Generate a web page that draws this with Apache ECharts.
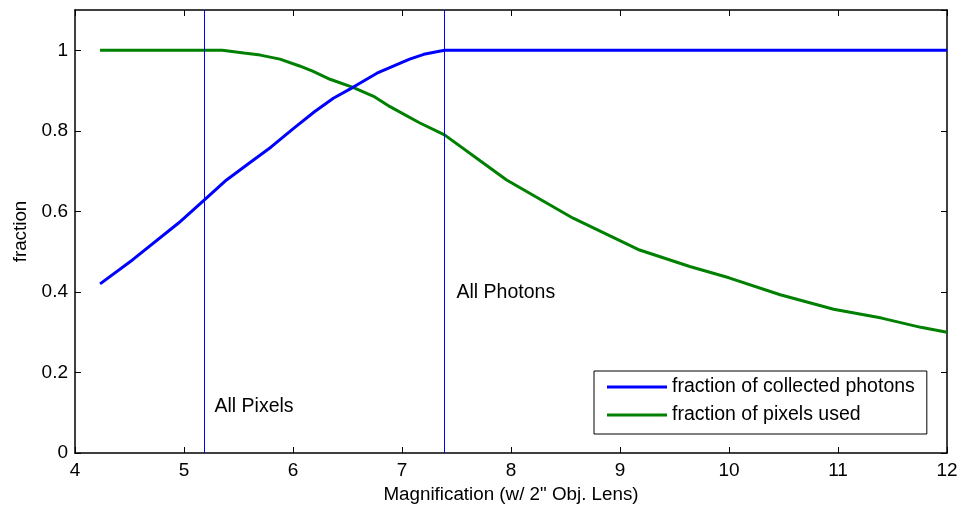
<!DOCTYPE html>
<html>
<head>
<meta charset="utf-8">
<script src="https://cdn.jsdelivr.net/npm/echarts@6/dist/echarts.min.js"></script>
<style>html,body{margin:0;padding:0;background:#fff}#c{width:961px;height:508px}</style>
</head>
<body>
<div id="c"></div>
<script>
const photonX = [4.23, 4.53, 4.95, 5.19, 5.39, 5.6, 5.8, 6.0, 6.2, 6.37, 6.55, 6.77, 7.07, 7.2, 7.39, 12];
const photonY = [0.42, 0.48, 0.571, 0.629, 0.678, 0.72, 0.76, 0.805, 0.848, 0.881, 0.908, 0.943, 0.978, 0.99, 1.0, 1.0];
const pixelX = [4.23, 5.35, 5.55, 5.70, 5.88, 6.06, 6.18, 6.34, 6.55, 6.75, 6.89, 7.16, 7.39, 7.72, 7.96, 8.57, 9.18, 9.64, 10.0, 10.47, 10.96, 11.4, 11.76, 12.0];
const pixelY = [1.0, 1.0, 0.993, 0.988, 0.978, 0.961, 0.948, 0.928, 0.908, 0.884, 0.86, 0.82, 0.79, 0.725, 0.678, 0.583, 0.504, 0.463, 0.435, 0.393, 0.357, 0.335, 0.312, 0.300];
const seriesNames = ['fraction of collected photons', 'fraction of pixels used'];
const markX = [5.19, 7.386];
const markLabels = [['All Pixels', 5.28, 0.115], ['All Photons', 7.5, 0.398]];
const xTicks = {min: 4, max: 12, interval: 1};
const yTicks = {min: 0, max: 1.1, interval: 0.2};

const font = 'Liberation Sans, Arial, Helvetica, sans-serif';
const zip = (xs, ys) => xs.map((x, i) => [x, ys[i]]);
const chart = echarts.init(document.getElementById('c'));
const axisLine = {show: true, onZero: false, lineStyle: {color: '#000', width: 1.5}};
const axisTick = {show: true, inside: true, length: 6, lineStyle: {color: '#000', width: 1}};
const vLine = {color: '#0000ff', width: 1, type: 'solid', opacity: 1};
chart.setOption({
  animation: false,
  grid: {left: 75, right: 14, top: 10, bottom: 55, containLabel: false, outerBoundsMode: 'none'},
  legend: {
    left: 594, top: 371, orient: 'vertical',
    backgroundColor: '#fff', borderColor: '#000', borderWidth: 1,
    padding: [6, 12, 9, 13], itemGap: 8, itemWidth: 60, itemHeight: 3,
    icon: 'rect',
    textStyle: {fontFamily: font, fontSize: 19.5, color: '#000', lineHeight: 20},
    data: seriesNames
  },
  xAxis: [{
    type: 'value', min: xTicks.min, max: xTicks.max, interval: xTicks.interval,
    name: 'Magnification (w/ 2" Obj. Lens)', nameLocation: 'middle', nameGap: 30,
    nameTextStyle: {fontFamily: font, fontSize: 18.8, color: '#000'},
    axisLine, axisTick, splitLine: {show: false},
    axisLabel: {fontFamily: font, fontSize: 19, color: '#000', margin: 8}
  }, {
    type: 'value', position: 'top', min: xTicks.min, max: xTicks.max, interval: xTicks.interval,
    axisLine, axisTick, splitLine: {show: false}, axisLabel: {show: false}
  }],
  yAxis: [{
    type: 'value', min: yTicks.min, max: yTicks.max, interval: yTicks.interval,
    name: 'fraction', nameLocation: 'middle', nameGap: 45, nameRotate: 90,
    nameTextStyle: {fontFamily: font, fontSize: 18.8, color: '#000'},
    axisLine, axisTick, splitLine: {show: false},
    axisLabel: {fontFamily: font, fontSize: 19, color: '#000', margin: 7, showMaxLabel: false,
      formatter: v => (v > 1.05 ? '' : String(Math.round(v * 10) / 10))}
  }, {
    type: 'value', position: 'right', min: yTicks.min, max: yTicks.max, interval: yTicks.interval,
    axisLine, axisTick, splitLine: {show: false}, axisLabel: {show: false}
  }],
  series: [{
    name: seriesNames[0], type: 'line', showSymbol: false, symbol: 'none',
    color: '#0000ff', lineStyle: {width: 3, color: '#0000ff'},
    data: zip(photonX, photonY), z: 3,
    markLine: {
      silent: true, symbol: ['none', 'none'], label: {show: false},
      lineStyle: vLine, emphasis: {disabled: true},
      data: markX.map(x => ({xAxis: x, lineStyle: vLine}))
    }
  }, {
    name: seriesNames[1], type: 'line', showSymbol: false, symbol: 'none',
    color: '#008000', lineStyle: {width: 3, color: '#008000'},
    data: zip(pixelX, pixelY), z: 2
  }, {
    type: 'scatter', symbolSize: 0, silent: true,
    data: markLabels.map(m => ({value: [m[1], m[2]], name: m[0]})),
    label: {show: true, position: 'right', distance: 0, formatter: p => p.name,
      fontFamily: font, fontSize: 19.5, color: '#000', opacity: 1}
  }]
});
</script>
</body>
</html>
